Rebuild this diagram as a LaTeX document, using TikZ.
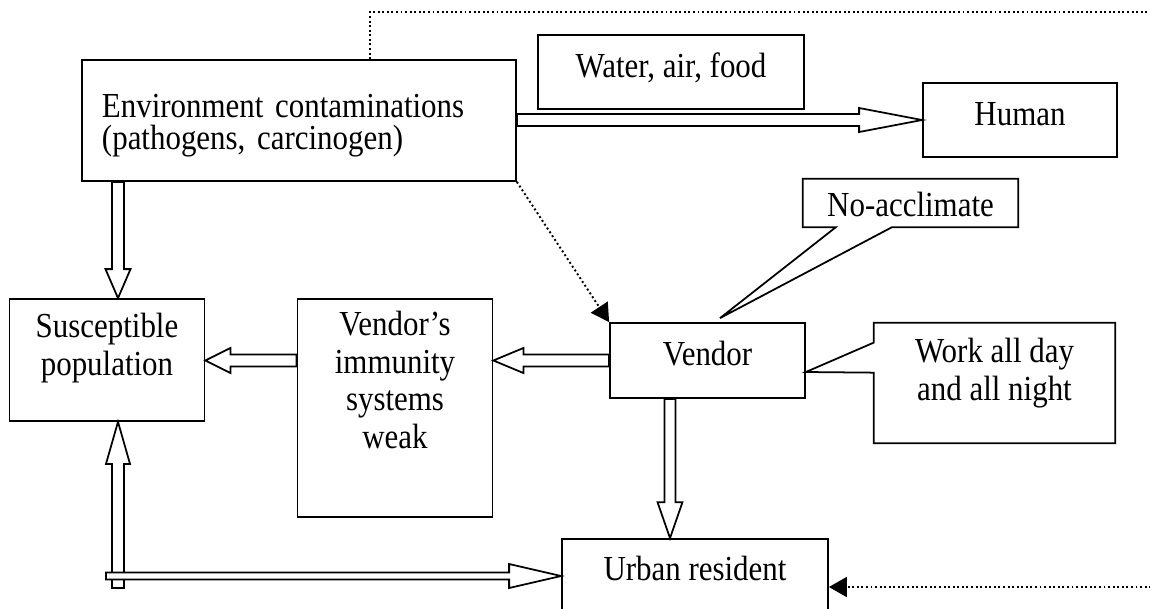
\documentclass[tikz,border=0pt]{standalone}
\usepackage{fontspec}
\setmainfont[FakeStretch=0.88]{Liberation Serif}
\usetikzlibrary{arrows.meta, calc}

\begin{document}
\begin{tikzpicture}[
    x=0.2mm, y=-0.2mm,
    every node/.style={font=\fontsize{20}{21.3}\selectfont},
    box/.style={draw, line width=1pt, inner sep=0.5mm, align=center},
    callout/.style={inner sep=0.5mm, align=center},
    rim/.style={line width=1pt, line join=miter},
    blk/.style n args={3}{rim, fill=white, to path={
        let \p1=(\tikztostart), \p2=(\tikztotarget),
            \n1={atan2(\y2-\y1,\x2-\x1)}, \n2={veclen(\x2-\x1,\y2-\y1)} in
        {[shift={(\p1)}, rotate=\n1]
          (0pt,#1) -- (\n2-#3,#1) -- (\n2-#3,#2) -- (\n2,0pt)
          -- (\n2-#3,-#2) -- (\n2-#3,-#1) -- (0pt,-#1) -- cycle}}},
    dots/.style={line width=1.1pt, dash pattern=on 1.1pt off 1.5pt,
        -{Triangle[length=3.6mm, width=4mm]}}
]
    \clip (0,0) rectangle (1150,608);

    % boxes
    \node[box, minimum width=86.8mm, minimum height=24.2mm, text width=78.8mm, inner xsep=4mm,
          align=left, text height=5mm, text depth=6.4mm, font=\fontsize{20}{18.6}\selectfont]
          (env) at (299,120.5) {Environment contaminations\\(pathogens, carcinogen)};
    \node[box, minimum width=53.2mm, minimum height=14.8mm, text height=5mm, text depth=3mm]
          (water) at (671,72) {Water, air, food};
    \node[box, minimum width=38.8mm, minimum height=14.8mm, text height=5mm, text depth=3mm]
          (human) at (1020,120) {Human};
    \node[box, minimum width=39mm, minimum height=24.4mm, text height=14mm, text depth=8mm]
          (susc) at (107,360) {Susceptible\\population};
    \node[box, minimum width=39mm, minimum height=43.6mm, text height=28mm, text depth=12mm]
          (immun) at (395,408) {Vendor’s\\immunity\\systems\\weak};
    \node[box, minimum width=39mm, minimum height=15mm, text height=5mm, text depth=3.2mm]
          (vendor) at (707.5,360.5) {Vendor};
    \node[box, minimum width=53.2mm, minimum height=14.8mm, text height=5mm, text depth=3.4mm]
          (urban) at (695,576) {Urban resident};

    % callouts
    \node[callout, minimum width=43mm, minimum height=9.6mm, text height=6mm, text depth=0.8mm]
          (noacc) at (910.5,203) {No-acclimate};
    \node[callout, minimum width=48.2mm, minimum height=24mm, text height=14mm, text depth=7.2mm]
          (work) at (994.5,383) {Work all day\\and all night};
    \coordinate (acctip) at ([xshift=2.5mm, yshift=0.8mm]vendor.north);
    \coordinate (worktip) at ([yshift=-2.3mm]vendor.east);
    \draw[rim] (noacc.north west) -- (noacc.north east) -- (noacc.south east)
        -- ([xshift=17.8mm]noacc.south west) -- (acctip) -- ([xshift=6.6mm]noacc.south west)
        -- (noacc.south west) -- cycle;
    \draw[rim] (work.north west) -- (work.north east) -- (work.south east) -- (work.south west)
        -- ([yshift=-10mm]work.north west) -- (worktip) -- ([yshift=-4mm]work.north west) -- cycle;

    % block arrows
    \coordinate (feed) at ([xshift=2.2mm, yshift=-33.2mm]susc.south);
    \draw[blk={1.2mm}{2.4mm}{12.6mm}] (env.east |- human.west) to (human.west);
    \draw[blk={1.2mm}{2.5mm}{5.8mm}] ([xshift=2.2mm]susc.north |- env.south) to ([xshift=2.2mm]susc.north);
    \draw[blk={1.2mm}{2.5mm}{6mm}] (vendor.west) to (immun.east |- vendor.west);
    \draw[blk={1.2mm}{2.5mm}{5mm}] (immun.west |- vendor.west) to (susc.east |- vendor.west);
    \draw[blk={1.1mm}{2.5mm}{7.2mm}] ([xshift=-7.5mm]vendor.south) to ([xshift=-7.5mm]vendor.south |- urban.north);
    \draw[blk={1.2mm}{2.4mm}{8.4mm}] (feed) to ([xshift=2.2mm]susc.south);
    \draw[blk={0.7mm}{2.4mm}{10.4mm}] ([xshift=-2.4mm]feed |- urban.west) to (urban.west);

    % dotted links
    \coordinate (loopNE) at (1160,12);
    \coordinate (loopSE) at (1160,587);
    \draw[dots] (env.south east) -- (vendor.north west);
    \draw[dots] ([xshift=14.2mm]env.north) |- (loopNE) -- (loopSE) -- (urban.east |- loopSE);
\end{tikzpicture}
\end{document}
